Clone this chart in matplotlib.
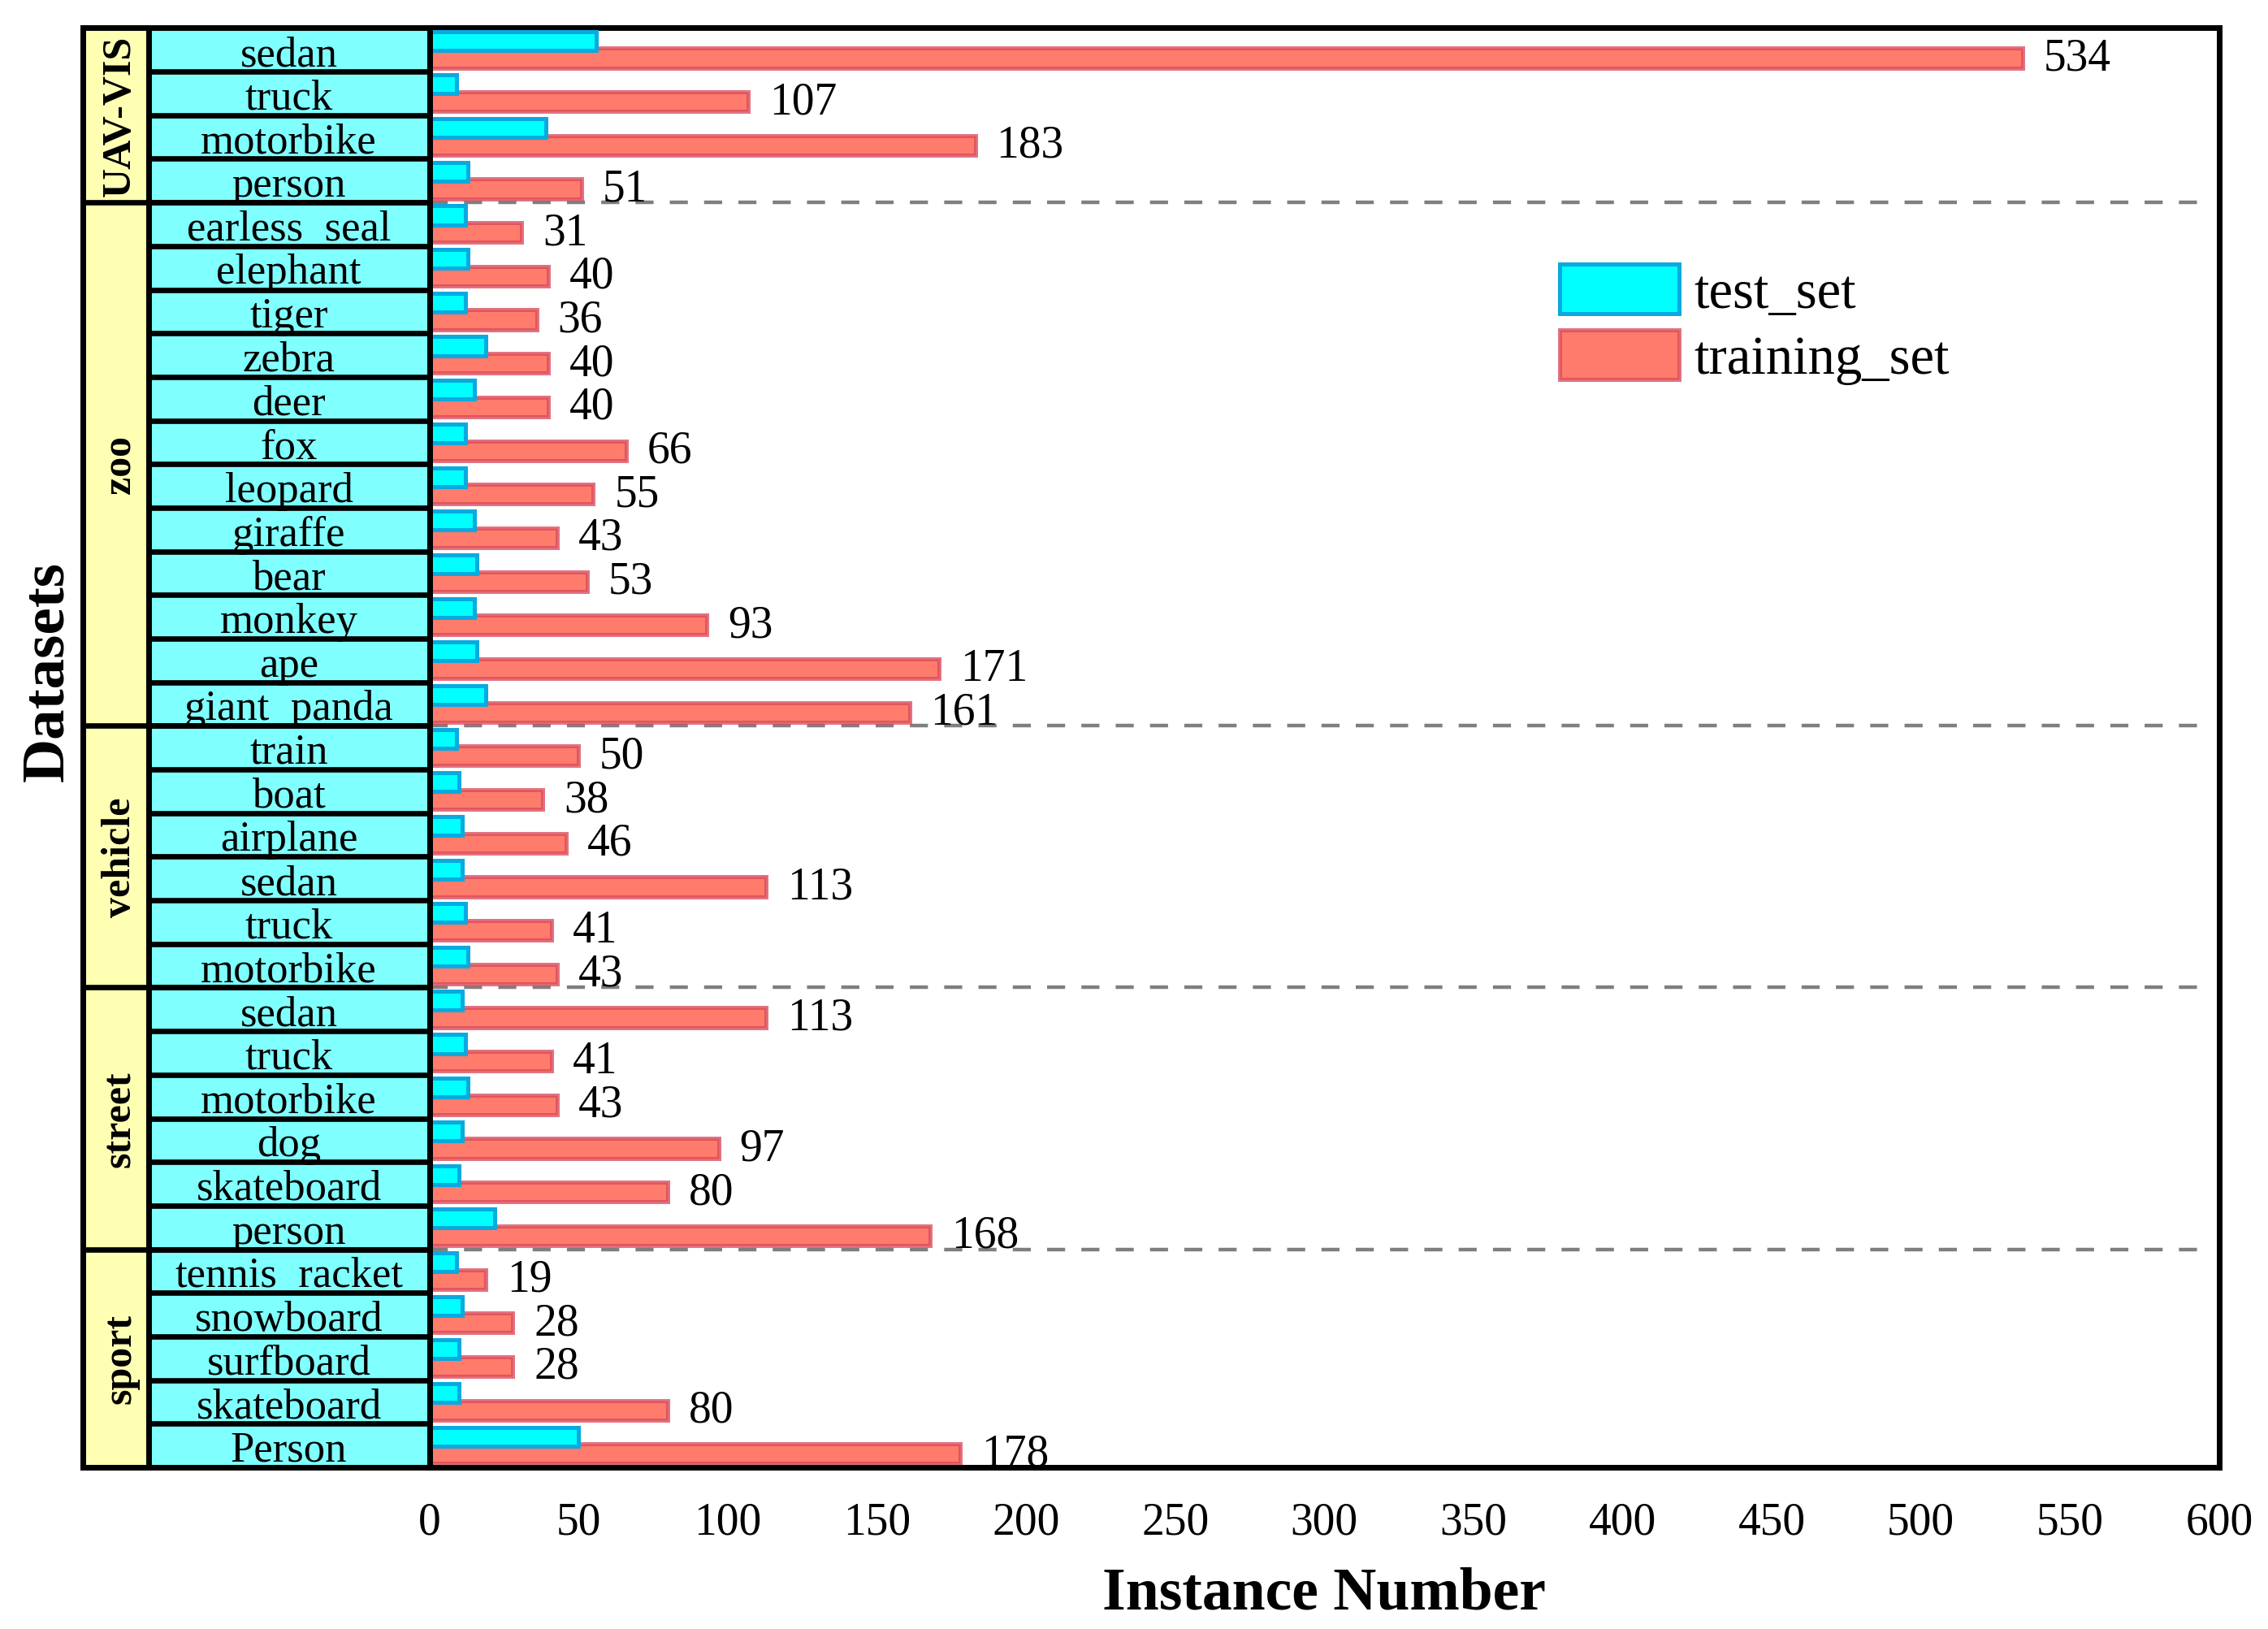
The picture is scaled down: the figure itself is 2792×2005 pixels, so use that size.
import matplotlib
matplotlib.use('Agg')
from matplotlib import pyplot as plt
from matplotlib.patches import Rectangle

groups = ['UAV-VIS', 'zoo', 'vehicle', 'street', 'sport']
group_sizes = [4, 12, 6, 6, 5]
categories = ['sedan', 'truck', 'motorbike', 'person',
              'earless_seal', 'elephant', 'tiger', 'zebra', 'deer', 'fox',
              'leopard', 'giraffe', 'bear', 'monkey', 'ape', 'giant_panda',
              'train', 'boat', 'airplane', 'sedan', 'truck', 'motorbike',
              'sedan', 'truck', 'motorbike', 'dog', 'skateboard', 'person',
              'tennis_racket', 'snowboard', 'surfboard', 'skateboard', 'Person']
training_set = [534, 107, 183, 51,
                31, 40, 36, 40, 40, 66, 55, 43, 53, 93, 171, 161,
                50, 38, 46, 113, 41, 43,
                113, 41, 43, 97, 80, 168,
                19, 28, 28, 80, 178]
test_set = [56, 9, 39, 13,
            12, 13, 12, 19, 15, 12, 12, 15, 16, 15, 16, 19,
            9, 10, 11, 11, 12, 13,
            11, 12, 13, 11, 10, 22,
            9, 11, 10, 10, 50]
xticks = list(range(0, 601, 50))


def main():
    plt.rcParams['font.family'] = 'Liberation Serif'
    n = len(categories)
    rows = list(range(n))

    W, H = 2792, 2006
    fig = plt.figure(figsize=(W / 200, H / 200), dpi=200)
    x0, x1 = 528.5 / W, 2732 / W
    lx0 = 101.7 / W
    y0, y1 = 1 - 1807 / H, 1 - 35.4 / H
    ax = fig.add_axes([x0, y0, x1 - x0, y1 - y0])
    lax = fig.add_axes([lx0, y0, x0 - lx0, y1 - y0])

    # bars
    red = ax.barh([r + 0.69 for r in rows], training_set, height=0.45,
                  color='#FF7B6B', edgecolor=(0.847, 0.29, 0.357, 0.77),
                  linewidth=1.8, zorder=2)
    cyan = ax.barh([r + 0.295 for r in rows], test_set, height=0.43,
                   color='#00FFFF', edgecolor='#08AAE0',
                   linewidth=1.8, zorder=3)
    for r, v in zip(rows, training_set):
        ax.text(v + 7, r + 0.95, str(v), ha='left', va='baseline',
                fontsize=20, zorder=4)

    # group separators
    bounds = []
    acc = 0
    for s in group_sizes[:-1]:
        acc += s
        bounds.append(acc)
    ax.hlines(bounds, 0, 594, colors='#7F7F7F', linewidth=1.6,
              linestyles=(0, (5, 4.5)), zorder=1)

    ax.set_xlim(0, 600)
    ax.set_ylim(n, 0)
    ax.set_xticks(xticks)
    ax.set_yticks([])
    ax.tick_params(axis='x', length=0, pad=15, labelsize=20)
    for sp in ax.spines.values():
        sp.set_linewidth(2.5)

    ax.legend([cyan, red], ['test_set', 'training_set'], loc='upper left',
              bbox_to_anchor=(1920 / W, 1 - 326 / H),
              bbox_transform=fig.transFigure, frameon=False, fontsize=24,
              borderpad=0, borderaxespad=0, handlelength=2.2,
              handleheight=1.02, labelspacing=0.21, handletextpad=0.28)

    # label columns
    gx = (183 - 101.7) / (528.5 - 101.7)
    lax.set_xlim(0, 1)
    lax.set_ylim(n, 0)
    lax.set_xticks([])
    lax.set_yticks([])
    for sp in lax.spines.values():
        sp.set_linewidth(2.5)
    lax.add_patch(Rectangle((0, 0), gx, n, facecolor='#FFFFB4',
                            edgecolor='none', zorder=0))
    lax.add_patch(Rectangle((gx, 0), 1 - gx, n, facecolor='#80FFFF',
                            edgecolor='none', zorder=0))
    lax.hlines(range(1, n), gx, 1, colors='k', linewidth=2.4, zorder=4)
    lax.hlines(bounds, 0, 1, colors='k', linewidth=2.4, zorder=4)
    lax.vlines(gx, 0, n, colors='k', linewidth=2.5, zorder=4)
    for r, name in zip(rows, categories):
        lax.text(0.595, r + 0.85, name, ha='center', va='baseline',
                 fontsize=19, zorder=3)
    start = 0
    for g, s in zip(groups, group_sizes):
        lax.text(0.137, start + s / 2, g, rotation=90, rotation_mode='anchor',
                 ha='center', va='baseline', fontsize=18, fontweight='bold',
                 zorder=3)
        start += s

    fig.text(76.7 / W, 1 - 826.5 / H, 'Datasets', rotation=90,
             rotation_mode='anchor', ha='center', va='baseline',
             fontsize=27, fontweight='bold')
    fig.text(1630 / W, 1 - 1981 / H, 'Instance Number', ha='center',
             va='baseline', fontsize=26.5, fontweight='bold')

    fig.savefig('out.png', dpi=200)


if __name__ == '__main__':
    main()
